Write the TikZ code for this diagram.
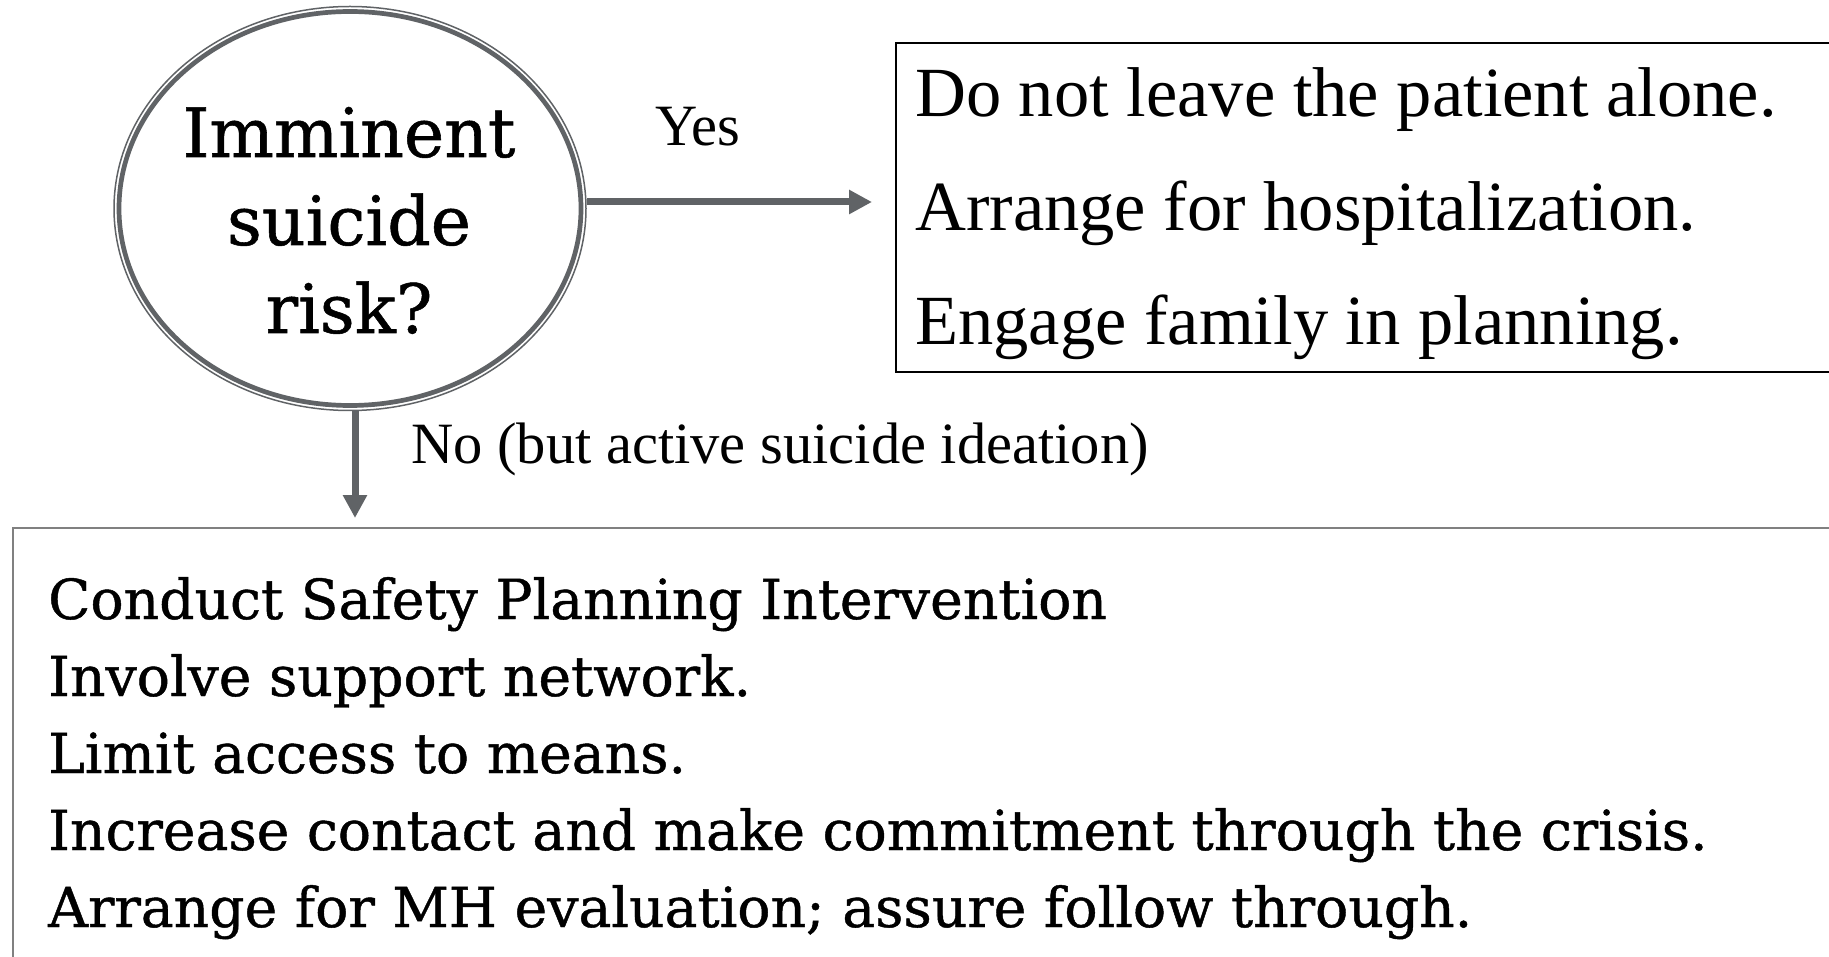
\documentclass[tikz,border=0pt]{standalone}
\usepackage{fontspec}
\setmainfont{Liberation Serif}
\newfontfamily\geo[FakeBold=0.8]{DejaVu Serif}
\usetikzlibrary{arrows.meta,shapes.geometric}
\definecolor{arrowgray}{RGB}{96,99,102}
\definecolor{boxgray}{RGB}{128,128,128}
\begin{document}
\begin{tikzpicture}[x=1pt,y=1pt,
  conn/.style={draw=arrowgray, line width=7pt, -{Triangle[length=23pt,width=23pt]}},
  qnode/.style={ellipse, draw=arrowgray, line width=4.7pt, minimum width=462pt, minimum height=394pt, inner sep=0pt},
  qouter/.style={draw=arrowgray, line width=1.5pt},
  qtext/.style={inner sep=0pt, font=\geo\fontsize{68}{88}\selectfont},
  topbox/.style={draw=black, line width=2pt, minimum width=1000pt, minimum height=329pt, inner sep=0pt},
  toptext/.style={inner sep=0pt, font=\fontsize{70.5}{114}\selectfont},
  botbox/.style={draw=boxgray, line width=2pt, minimum width=1900pt, minimum height=500pt, inner sep=0pt},
  bottext/.style={inner sep=0pt, font=\geo\fontsize{55.2}{77}\selectfont},
  lab/.style={inner sep=0pt, font=\fontsize{58.5}{60}\selectfont}]
\useasboundingbox (0,0) rectangle (1829,-957);
\fill[white] (0,0) rectangle (1829,-957);

% decision ellipse
\node[qnode] (q) at (350,-208.5) {};
\draw[qouter] (q.center) ellipse [x radius=236, y radius=202];
\node[qtext, anchor=base] (qt) at (349,-157) {\vtop{\halign{\hfil#\hfil\cr Imminent\cr suicide\cr risk?\cr}}};

% yes box
\node[topbox, anchor=north west] (act) at (895,-42) {};
\node[toptext, anchor=base west] (actt) at (915,-117) {\vtop{\hbox{Do not leave the patient alone.}\hbox{Arrange for hospitalization.}\hbox{Engage family in planning.}}};

% no box
\node[botbox, anchor=north west] (plan) at (12,-527) {};
\node[bottext, anchor=base west] (plant) at (48,-619) {\vtop{\hbox{Conduct Safety Planning Intervention}\hbox{Involve support network.}\hbox{Limit access to means.}\hbox{Increase contact and make commitment through the crisis.}\hbox{Arrange for MH evaluation; assure follow through.}}};

% labels
\node[lab, anchor=base west] (yes) at (655,-146) {Yes};
\node[lab, anchor=base west] (no) at (411,-464) {No (but active suicide ideation)};

% connectors
\coordinate (ya) at (0,-202);
\coordinate (xa) at (355,0);
\draw[conn, shorten <=4pt, shorten >=23pt] (q.east |- ya) -- (act.west |- ya);
\draw[conn, shorten <=3pt, shorten >=9pt] (q.south -| xa) -- (plan.north -| xa);
\end{tikzpicture}
\end{document}
